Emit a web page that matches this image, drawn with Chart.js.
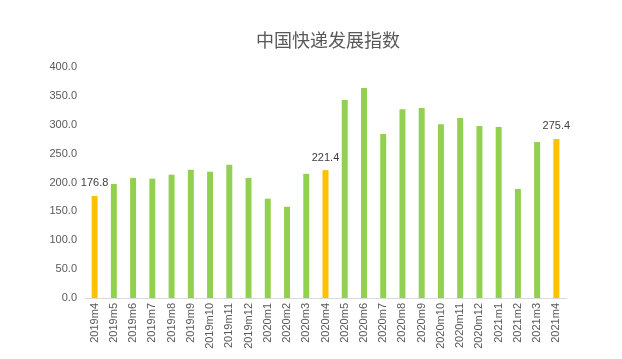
<!DOCTYPE html>
<html>
<head>
<meta charset="utf-8">
<script src="https://cdn.jsdelivr.net/npm/chart.js@4/dist/chart.umd.min.js"></script>
<style>
  html, body { margin: 0; padding: 0; background: #fff; }
  #wrap { width: 622px; height: 359px; }
</style>
</head>
<body>
<div id="wrap"><canvas id="c"></canvas></div>
<script>
var chartTitle = '中国快递发展指数';
var months = ['2019m4', '2019m5', '2019m6', '2019m7', '2019m8', '2019m9', '2019m10', '2019m11', '2019m12',
              '2020m1', '2020m2', '2020m3', '2020m4', '2020m5', '2020m6', '2020m7', '2020m8', '2020m9',
              '2020m10', '2020m11', '2020m12', '2021m1', '2021m2', '2021m3', '2021m4'];
var indexValues = [176.8, 197.4, 208.0, 206.6, 213.5, 222.0, 218.7, 230.8, 208.0,
                   172.0, 158.0, 215.0, 221.4, 342.9, 363.6, 284.0, 327.0, 329.0,
                   301.0, 311.7, 297.8, 296.0, 188.7, 270.0, 275.4];
var highlighted = ['2019m4', '2020m4', '2021m4'];
var yTicks = [0, 50, 100, 150, 200, 250, 300, 350, 400];

var GREEN = '#92D050';
var GOLD = '#FFC000';

var barColors = months.map(function(m) {
    return highlighted.indexOf(m) >= 0 ? GOLD : GREEN;
});

// title drawn by hand so it sits where the original has it (not centred on plot area)
var titlePlugin = {
    id: 'ownTitle',
    afterDraw: function(chart) {
        var ctx = chart.ctx;
        ctx.save();
        ctx.font = '18px "Noto Sans CJK SC", sans-serif';
        ctx.fillStyle = '#595959';
        ctx.textAlign = 'center';
        ctx.textBaseline = 'middle';
        ctx.fillText(chartTitle, 328, 40);
        ctx.restore();
    }
};

// value labels only on the highlighted (gold) bars
var labelPlugin = {
    id: 'hiLabels',
    afterDatasetsDraw: function(chart) {
        var ctx = chart.ctx;
        var meta = chart.getDatasetMeta(0);
        ctx.save();
        ctx.font = '11px "Liberation Sans", Arial, sans-serif';
        ctx.fillStyle = '#404040';
        ctx.textAlign = 'center';
        ctx.textBaseline = 'bottom';
        meta.data.forEach(function(bar, i) {
            if (highlighted.indexOf(months[i]) < 0) return;
            ctx.fillText(indexValues[i].toFixed(1), bar.x, bar.y - 7);
        });
        ctx.restore();
    }
};

new Chart(document.getElementById('c').getContext('2d'), {
    type: 'bar',
    data: {
        labels: months,
        datasets: [{
            data: indexValues,
            backgroundColor: barColors,
            borderWidth: 0,
            barPercentage: 0.62,
            categoryPercentage: 0.5
        }]
    },
    options: {
        responsive: true,
        maintainAspectRatio: false,
        animation: false,
        layout: { padding: { left: 0, right: 56, top: 67, bottom: 0 } },
        plugins: {
            legend: { display: false },
            tooltip: { enabled: false },
            title: { display: false }
        },
        scales: {
            x: {
                grid: { display: false, drawTicks: false },
                border: { display: true, color: '#D9D9D9', width: 1 },
                ticks: {
                    color: '#595959',
                    font: { family: '"Liberation Sans", Arial, sans-serif', size: 11 },
                    minRotation: 90,
                    maxRotation: 90,
                    autoSkip: false,
                    padding: 5
                },
                afterFit: function(scale) { scale.height = 61; }
            },
            y: {
                min: 0,
                max: 400,
                afterBuildTicks: function(scale) {
                    scale.ticks = yTicks.map(function(v) { return { value: v }; });
                },
                grid: { display: false, drawTicks: false },
                border: { display: false },
                ticks: {
                    color: '#595959',
                    font: { family: '"Liberation Sans", Arial, sans-serif', size: 11 },
                    padding: 8,
                    callback: function(v) { return Number(v).toFixed(1); }
                },
                afterFit: function(scale) { scale.width = 85; }
            }
        }
    },
    plugins: [titlePlugin, labelPlugin]
});
</script>
</body>
</html>
